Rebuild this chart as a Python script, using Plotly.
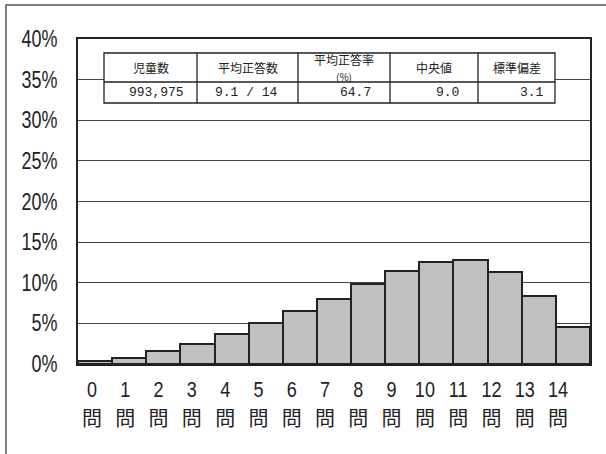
import plotly.graph_objects as go

categories = [f"{i}<br><span style='font-family:Noto Sans CJK JP;font-size:20px'>問</span>" for i in range(15)]
percent = [0.4, 0.7, 1.6, 2.5, 3.7, 5.1, 6.5, 8.0, 9.9, 11.5, 12.6, 12.8, 11.3, 8.4, 4.6]
y_ticks = [0, 5, 10, 15, 20, 25, 30, 35, 40]
y_tick_labels = [f"{v}%" for v in y_ticks]

table_headers = ["児童数", "平均正答数", "平均正答率<br><span style='font-size:10px'>(%)</span>", "中央値", "標準偏差"]
table_values = ["993,975", "9.1 / 14", "64.7", "9.0", "3.1"]

W, H = 606, 454
L, R, T, B = 78, 590, 39, 364

def px(x):
    return (x - L) / (R - L)

def py(y):
    return (B - y) / (B - T)

fig = go.Figure()
fig.add_trace(go.Bar(
    x=categories, y=percent,
    marker=dict(color="#c0c0c0", line=dict(color="#222222", width=2)),
    width=1.0, hoverinfo="y",
))
# label-only axis: the reference's labels run slightly tighter than the bars
fig.add_trace(go.Scatter(x=categories, y=[None] * len(categories), xaxis="x2",
                         mode="markers", hoverinfo="skip", showlegend=False))

shapes = []
shapes.append(dict(type="rect", xref="paper", yref="paper",
                   x0=px(6), x1=px(610), y0=py(460), y1=py(5),
                   line=dict(color="#555555", width=1.5), fillcolor="rgba(0,0,0,0)", layer="above"))
tx = [104, 197, 298, 390, 478, 555]
ty = [53, 82, 103]
shapes.append(dict(type="rect", xref="paper", yref="paper",
                   x0=px(tx[0]), x1=px(tx[-1]), y0=py(ty[2]), y1=py(ty[0]),
                   line=dict(color="#222222", width=1.3), fillcolor="white", layer="above"))
shapes.append(dict(type="line", xref="paper", yref="paper",
                   x0=px(tx[0]), x1=px(tx[-1]), y0=py(ty[1]), y1=py(ty[1]),
                   line=dict(color="#222222", width=1.3), layer="above"))
for x in tx[1:-1]:
    shapes.append(dict(type="line", xref="paper", yref="paper",
                       x0=px(x), x1=px(x), y0=py(ty[2]), y1=py(ty[0]),
                       line=dict(color="#222222", width=1.3), layer="above"))

annotations = []
for i, h in enumerate(table_headers):
    cx = (tx[i] + tx[i + 1]) / 2
    annotations.append(dict(xref="paper", yref="paper", x=px(cx), y=py(67.5),
                            text=h, showarrow=False, xanchor="center", yanchor="middle",
                            font=dict(family="Noto Sans CJK JP", size=12, color="#222222")))
value_right = [186, 280, 373, 461, 546]
for v, xr in zip(table_values, value_right):
    annotations.append(dict(xref="paper", yref="paper", x=px(xr), y=py(92.5),
                            text=v, showarrow=False, xanchor="right", yanchor="middle",
                            font=dict(family="Liberation Mono", size=13, color="#222222")))

r0 = -(92 - L) / 33.29
r1 = r0 + (R - L) / 33.29

fig.update_layout(
    width=W, height=H,
    margin=dict(l=L, r=W - R, t=T, b=H - B, pad=0),
    paper_bgcolor="white", plot_bgcolor="white",
    bargap=0, showlegend=False,
    shapes=shapes, annotations=annotations,
    xaxis=dict(showline=True, linecolor="#222222", linewidth=2, mirror=True, automargin=False,
               ticks="", showticklabels=False, showgrid=False),
    xaxis2=dict(overlaying="x", anchor="y", side="bottom", type="category",
                range=[r0, r1], showline=False, showgrid=False, zeroline=False,
                automargin=False, ticks="", fixedrange=True,
                tickfont=dict(family="Liberation Sans", size=22, color="#222222"),
                ticklabelstandoff=10),
    yaxis=dict(range=[0, 40], tickvals=y_ticks, ticktext=y_tick_labels, automargin=False,
               showline=True, linecolor="#222222", linewidth=2, mirror=True,
               showgrid=True, gridcolor="#444444", gridwidth=1, ticks="",
               tickfont=dict(family="Liberation Sans", size=23, color="#222222"),
               ticklabelstandoff=14, zeroline=False),
)

post = """
document.body.style.margin = '0';
var gd = document.getElementById('{plot_id}');
function squeeze() {
  gd.querySelectorAll('.ytick text').forEach(function (t) {
    if (t.getAttribute('lengthAdjust')) return;
    var w = t.getComputedTextLength();
    t.setAttribute('textLength', (w * 0.78).toFixed(2));
    t.setAttribute('lengthAdjust', 'spacingAndGlyphs');
  });
  gd.querySelectorAll('.x2tick text').forEach(function (t) {
    var sp = t.querySelector('tspan.line') || t.querySelector('tspan');
    if (!sp || sp.getAttribute('lengthAdjust')) return;
    var x0 = parseFloat(t.getAttribute('x'));
    var w = sp.getComputedTextLength();
    sp.setAttribute('textLength', (w * 0.82).toFixed(2));
    sp.setAttribute('lengthAdjust', 'spacingAndGlyphs');
    var n = sp.getNumberOfChars();
    var a = sp.getStartPositionOfChar(0).x;
    var b = sp.getEndPositionOfChar(n - 1).x;
    var sx = parseFloat(sp.getAttribute('x'));
    if (isNaN(sx)) sx = x0;
    sp.setAttribute('x', (sx + (x0 - (a + b) / 2)).toFixed(2));
  });
}
squeeze();
"""

fig.write_html("out.html", post_script=post, config={"displayModeBar": False})
